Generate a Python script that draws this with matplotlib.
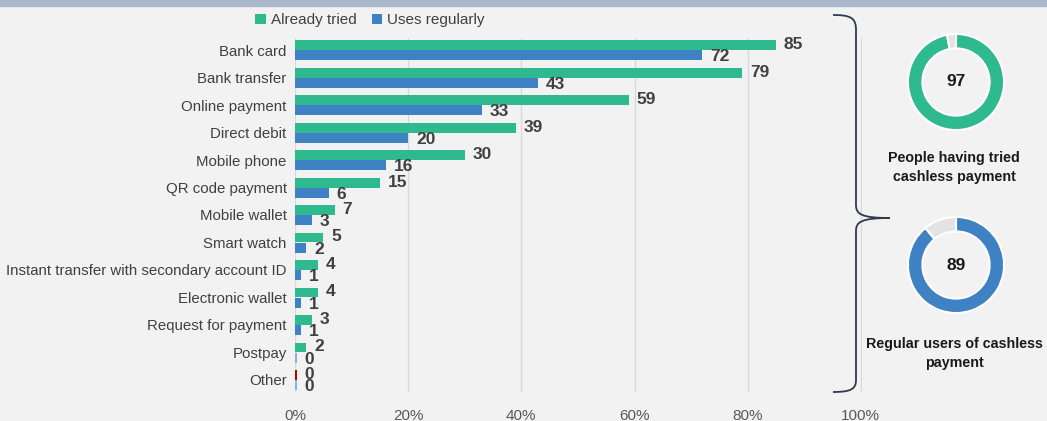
import numpy as np
import matplotlib.pyplot as plt
from matplotlib.patches import Rectangle, PathPatch
from matplotlib.path import Path

plt.rcParams['font.family'] = ['Liberation Sans', 'DejaVu Sans']

categories = ['Bank card', 'Bank transfer', 'Online payment', 'Direct debit', 'Mobile phone',
              'QR code payment', 'Mobile wallet', 'Smart watch',
              'Instant transfer with secondary account ID', 'Electronic wallet',
              'Request for payment', 'Postpay', 'Other']
already_tried = [85, 79, 59, 39, 30, 15, 7, 5, 4, 4, 3, 2, 0.3]
uses_regularly = [72, 43, 33, 20, 16, 6, 3, 2, 1, 1, 1, 0.3, 0.3]
donut_values = [97, 89]
donut_labels = ['People having tried\ncashless payment', 'Regular users of cashless\npayment']

GREEN = '#2eb98e'
BLUE = '#3f82c3'
LIGHTBLUE = '#7fb3e0'
RED = '#c00000'
BG = '#f2f2f2'
TXT = '#404040'

tried_colors = [GREEN] * 12 + [RED]
regular_colors = [BLUE] * 11 + [LIGHTBLUE, LIGHTBLUE]

W, H = 1047, 421
fig = plt.figure(figsize=(W / 100, H / 100), dpi=100, facecolor=BG)

# top band
fig.patches.append(Rectangle((0, 1 - 6 / H), 1, 6 / H, transform=fig.transFigure,
                             color='#aab7ca', zorder=0))

ax = fig.add_axes([295 / W, 1 - 392 / H, 567 / W, 354 / H])
ax.set_facecolor(BG)
y = np.arange(len(categories))
bh = 0.36
ax.barh(y - 0.18, already_tried, height=bh, color=tried_colors, zorder=3, label='Already tried')
ax.barh(y + 0.19, uses_regularly, height=bh, color=regular_colors, zorder=3, label='Uses regularly')

for i, (a, b) in enumerate(zip(already_tried, uses_regularly)):
    ax.text(a + 1.4, i - 0.2, f'{a:.0f}', va='center', ha='left', fontsize=12.5,
            fontweight='bold', color=TXT)
    ax.text(b + 1.4, i + 0.25, f'{b:.0f}', va='center', ha='left', fontsize=12.5,
            fontweight='bold', color=TXT)

ax.set_xlim(0, 100.2)
ax.set_ylim(len(categories) - 0.56, -0.44)
ax.set_yticks(y)
ax.set_yticklabels(categories, fontsize=10.8, color=TXT)
ax.set_xticks(np.arange(0, 101, 20))
ax.set_xticklabels([f'{v}%' for v in range(0, 101, 20)], fontsize=11, color='#595959')
ax.tick_params(length=0, pad=6)
ax.tick_params(axis='x', pad=12)
ax.xaxis.grid(True, color='#d9d9d9', linewidth=1, zorder=0)
for s in ax.spines.values():
    s.set_visible(False)

leg = ax.legend(loc='lower center', bbox_to_anchor=(0.132, 1.0), ncol=2, frameon=False,
                fontsize=11, handlelength=0.7, handleheight=0.7, handletextpad=0.3,
                columnspacing=1.0, labelcolor=TXT, borderaxespad=0.3)

# brace
def fx(px):
    return px / W

def fy(py):
    return 1 - py / H

pts = [(833, 15), (851, 15), (856, 18), (856, 30),
       (856, 205),
       (856, 214), (861, 218), (890, 218),
       (861, 218), (856, 222), (856, 231),
       (856, 380),
       (856, 389), (851, 392), (833, 392)]
codes = [Path.MOVETO, Path.CURVE4, Path.CURVE4, Path.CURVE4,
         Path.LINETO,
         Path.CURVE4, Path.CURVE4, Path.CURVE4,
         Path.CURVE4, Path.CURVE4, Path.CURVE4,
         Path.LINETO,
         Path.CURVE4, Path.CURVE4, Path.CURVE4]
brace = Path([(fx(px), fy(py)) for px, py in pts], codes)
fig.patches.append(PathPatch(brace, transform=fig.transFigure, fill=False,
                             edgecolor='#2f3b4c', linewidth=1.3))

# donuts
centers = [(956, 82), (956, 265)]
label_y = [151, 337]
colors = [GREEN, BLUE]
for (cx, cy), ly, val, col, lab in zip(centers, label_y, donut_values, colors, donut_labels):
    r = 49
    dax = fig.add_axes([(cx - r) / W, 1 - (cy + r) / H, 2 * r / W, 2 * r / H])
    dax.pie([val, 100 - val], colors=[col, '#e3e3e3'], startangle=90, counterclock=False,
            radius=1.0, wedgeprops=dict(width=0.3, edgecolor='white', linewidth=1.5))
    dax.set_xlim(-1.02, 1.02)
    dax.set_ylim(-1.02, 1.02)
    dax.set_aspect('equal')
    dax.text(0, 0, f'{val}', ha='center', va='center', fontsize=12.5, fontweight='bold',
             color='#1a1a1a')
    fig.text(fx(cx - 2), fy(ly), lab, ha='center', va='top', fontsize=10.3,
             fontweight='bold', color='#1a1a1a', linespacing=1.5)

fig.savefig('out.png', dpi=100, facecolor=BG)
